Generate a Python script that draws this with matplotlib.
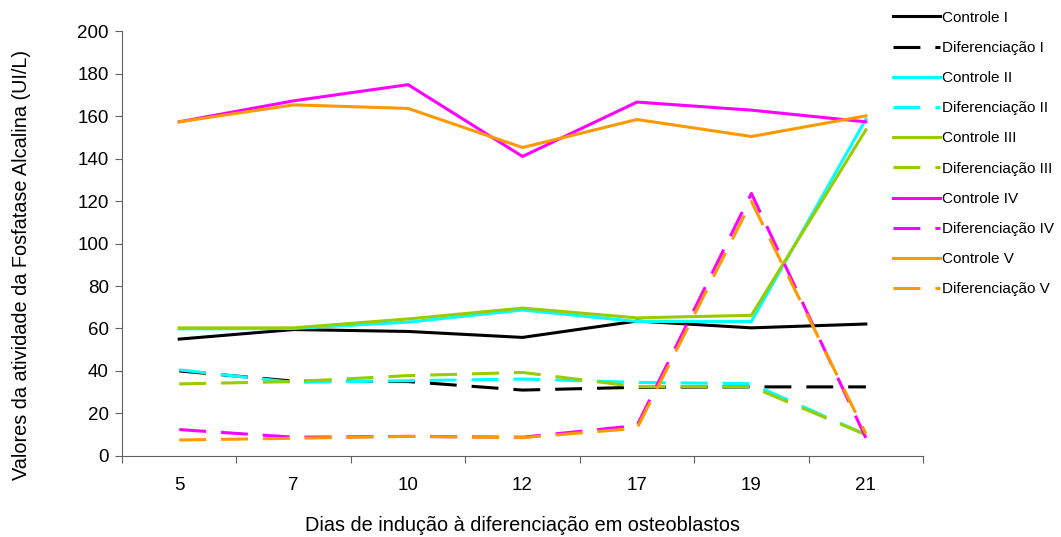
import numpy as np
import matplotlib
matplotlib.use("Agg")
import matplotlib.pyplot as plt

plt.rcParams['font.family'] = ['Liberation Sans', 'DejaVu Sans']

dias = ["5", "7", "10", "12", "17", "19", "21"]

controle_1 = [55.0, 59.5, 58.6, 55.8, 63.5, 60.3, 62.1]
diferenciacao_1 = [40.0, 35.2, 35.0, 31.0, 32.3, 32.5, 32.5]
controle_2 = [59.8, 60.0, 63.0, 68.7, 63.3, 63.3, 158.5]
diferenciacao_2 = [40.5, 34.6, 35.4, 36.2, 34.6, 34.0, 10.0]
controle_3 = [60.3, 60.3, 64.5, 69.6, 65.0, 66.2, 153.5]
diferenciacao_3 = [33.9, 35.0, 37.8, 39.3, 32.6, 32.6, 10.0]
controle_4 = [157.3, 167.2, 174.8, 141.0, 166.6, 162.8, 157.3]
diferenciacao_4 = [12.4, 8.8, 9.2, 8.8, 14.3, 123.6, 8.5]
controle_5 = [157.3, 165.3, 163.6, 145.2, 158.4, 150.4, 160.1]
diferenciacao_5 = [7.5, 8.3, 9.2, 8.6, 13.0, 119.8, 10.5]

nomes = ["I", "II", "III", "IV", "V"]
cores = ["#000000", "#00FFFF", "#99CC00", "#FF00FF", "#FF9900"]
controles = [controle_1, controle_2, controle_3, controle_4, controle_5]
diferenciacoes = [diferenciacao_1, diferenciacao_2, diferenciacao_3,
                  diferenciacao_4, diferenciacao_5]

fig = plt.figure(figsize=(10.61, 5.37), dpi=100)
ax = fig.add_axes([0.115, 0.151, 0.755, 0.791])

x = np.arange(len(dias))
for nome, cor, c, d in zip(nomes, cores, controles, diferenciacoes):
    ax.plot(x, c, color=cor, lw=2.2, label="Controle " + nome)
    ax.plot(x, d, color=cor, lw=2.2, dashes=(8.8, 4.9), label="Diferenciação " + nome)

ax.set_xlim(-0.5, len(dias) - 0.5)
ax.set_ylim(0, 200)
ax.set_yticks(np.arange(0, 201, 20))
ax.set_xticks(np.arange(-0.5, len(dias), 1.0))
ax.set_xticklabels([])
ax.set_xticks(x, minor=True)
ax.set_xticklabels(dias, minor=True)
ax.tick_params(axis='x', which='minor', length=0, pad=15, labelsize=13.5)
ax.tick_params(axis='x', which='major', length=5, color='#606060', direction='out')
ax.tick_params(axis='y', length=5, pad=4.5, color='#606060', labelsize=13.5)

for s in ['top', 'right']:
    ax.spines[s].set_visible(False)
for s in ['left', 'bottom']:
    ax.spines[s].set_color('#606060')

ax.set_ylabel("Valores da atividade da Fosfatase Alcalina (UI/L)", fontsize=14.3)
ax.yaxis.set_label_coords(-0.114, 0.449)
ax.set_xlabel("Dias de indução à diferenciação em osteoblastos", fontsize=14.3, labelpad=16)

fig.legend(loc='upper left', bbox_to_anchor=(0.832, 1.0), frameon=False,
           fontsize=11, labelspacing=1.06, handlelength=3.07, handletextpad=0.1,
           borderaxespad=0.3)

fig.savefig("out.png", dpi=100)
